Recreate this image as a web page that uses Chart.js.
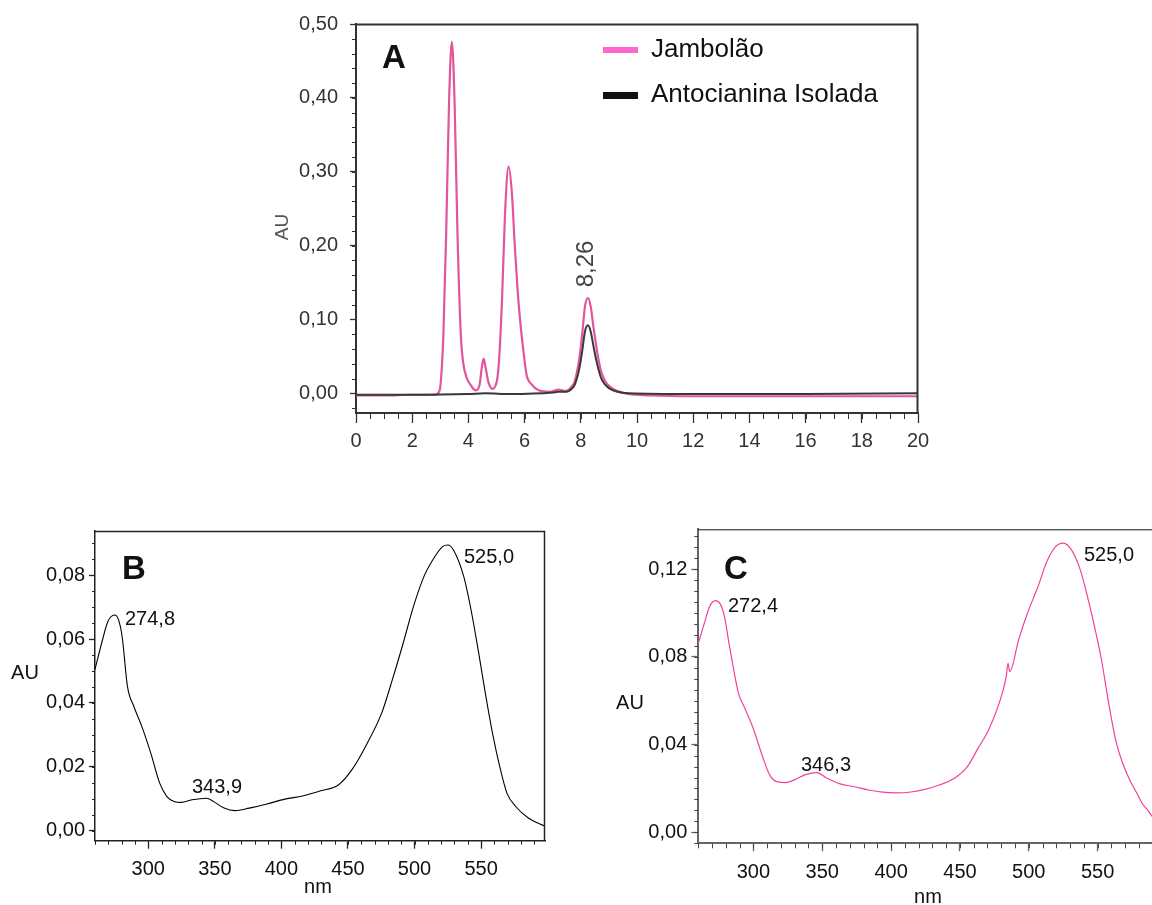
<!DOCTYPE html>
<html lang="pt">
<head>
<meta charset="utf-8">
<title>Cromatograma e espectros</title>
<script src="https://cdn.jsdelivr.net/npm/chart.js@4.4.1/dist/chart.umd.min.js"></script>
<style>
  html, body { margin: 0; padding: 0; background: #fff; overflow: hidden; }
  body { position: relative; width: 1152px; height: 905px; }
  canvas { position: absolute; }
  #chartA { left: 250px; top: 0; }
  #chartB { left: 0; top: 500px; }
  #chartC { left: 600px; top: 500px; }
</style>
</head>
<body>
<canvas id="chartA" width="720" height="470"></canvas>
<canvas id="chartB" width="580" height="405"></canvas>
<canvas id="chartC" width="600" height="405"></canvas>

<script>
'use strict';

/* ---------- A: cromatograma (min x AU) ---------- */
const jamT  = [0, 1, 2, 2.8, 2.97, 3.03, 3.11, 3.21, 3.31, 3.41, 3.51, 3.61, 3.73, 3.82, 3.94, 4.1, 4.26, 4.4, 4.47, 4.54,
               4.62, 4.72, 4.86, 4.96, 5.03, 5.1, 5.2, 5.3, 5.43, 5.55, 5.65, 5.75, 5.85, 5.95, 6.07, 6.25, 6.5, 6.9, 7.2, 7.45,
               7.65, 7.79, 7.95, 8.05, 8.15, 8.25, 8.35, 8.45, 8.55, 8.62, 8.72, 8.86, 9.0, 9.3, 9.7, 10.5, 12, 14, 16, 18, 20];
const jamAU = [-0.003, -0.003, -0.002, -0.002, 0.003, 0.021, 0.079, 0.218, 0.392, 0.476, 0.392, 0.218, 0.079, 0.04, 0.021, 0.01, 0.004, 0.012, 0.033, 0.047,
               0.033, 0.014, 0.006, 0.01, 0.02, 0.05, 0.13, 0.24, 0.307, 0.27, 0.2, 0.14, 0.095, 0.06, 0.025, 0.012, 0.004, 0.002, 0.005, 0.003,
               0.008, 0.017, 0.048, 0.08, 0.118, 0.129, 0.118, 0.09, 0.064, 0.048, 0.03, 0.017, 0.01, 0.003, -0.001, -0.003, -0.004, -0.004, -0.004, -0.004, -0.004];

const antT  = [0, 2, 4, 4.6, 5.5, 7, 7.2, 7.5, 7.65, 7.79, 7.95, 8.05, 8.15, 8.25, 8.35, 8.45, 8.55, 8.62, 8.72, 8.86, 9.0, 9.3, 9.7, 12, 16, 20];
const antAU = [-0.002, -0.002, -0.001, 0.0, -0.001, 0.001, 0.002, 0.002, 0.005, 0.012, 0.034, 0.057, 0.084, 0.092, 0.084, 0.064, 0.045, 0.034, 0.021, 0.012,
               0.007, 0.002, 0.0, -0.001, -0.001, 0.0];

const aTimeTicks = [0, 2, 4, 6, 8, 10, 12, 14, 16, 18, 20];
const aAUTicks   = [0, 0.1, 0.2, 0.3, 0.4, 0.5];

/* ---------- B: espectro antocianina isolada ---------- */
const bNm = [260, 265.6, 269.6, 274.8, 277.7, 280.4, 284.4, 289.2, 295.2, 301.9, 308.6, 314, 319.4, 324.7, 332.8, 343.9, 348.9, 357, 365, 375.8,
             389.2, 402.7, 416, 429.6, 443, 453.8, 464.5, 475.3, 483.3, 491.4, 499.5, 507.5, 512.9, 521, 525, 529, 537, 542.5, 547.8, 553.2,
             558.6, 564, 569.4, 576, 585.5, 598];
const bAU = [0.0505, 0.0597, 0.0654, 0.0675, 0.066, 0.0607, 0.0451, 0.0389, 0.0326, 0.0243, 0.0149, 0.0107, 0.0092, 0.0089, 0.0097, 0.0102, 0.0092, 0.0071, 0.0063, 0.0071,
             0.0084, 0.0099, 0.0109, 0.0125, 0.0144, 0.0196, 0.0274, 0.0368, 0.0472, 0.0586, 0.0706, 0.08, 0.0842, 0.0889, 0.0894, 0.088, 0.0795, 0.069, 0.0566, 0.043,
             0.0305, 0.0201, 0.0118, 0.0076, 0.004, 0.0014];
const bNmTicks = [300, 350, 400, 450, 500, 550];
const bAUTicks = [0, 0.02, 0.04, 0.06, 0.08];

/* ---------- C: espectro jambolão ---------- */
const cNm = [260, 264.4, 268.2, 272.4, 275.9, 279, 282.3, 286.2, 289.2, 293.8, 300.3, 306.7, 311.8, 317, 323.3, 329.7, 337.4, 346.3, 352.8, 363,
             373.3, 383.6, 393.8, 404.1, 414.4, 424.6, 434.9, 445.1, 455.4, 463.1, 470.8, 478.5, 483.6, 484.9, 486.2, 492.6, 499, 506.7, 513.1, 519.5,
             525, 531, 537.4, 542.6, 547.7, 552.8, 558, 563.1, 568.2, 573.3, 578.5, 582.3, 586.2, 590.8, 596];
const cAU = [0.0862, 0.0954, 0.103, 0.1057, 0.1042, 0.0984, 0.0862, 0.0725, 0.0634, 0.0566, 0.0467, 0.0345, 0.0262, 0.0231, 0.0227, 0.0239, 0.0262, 0.0272, 0.0249, 0.0221,
             0.0208, 0.0193, 0.0183, 0.018, 0.0184, 0.0196, 0.0216, 0.0243, 0.03, 0.0383, 0.0467, 0.0589, 0.071, 0.0771, 0.0733, 0.0878, 0.0999, 0.1121, 0.1235, 0.1303,
             0.1319, 0.1288, 0.1197, 0.1075, 0.0938, 0.0786, 0.0589, 0.0421, 0.0315, 0.0239, 0.0178, 0.0132, 0.0102, 0.0064, 0.005];
const cNmTicks = [300, 350, 400, 450, 500, 550];
const cAUTicks = [0, 0.04, 0.08, 0.12];

const FONT = '"Liberation Sans", Arial, Helvetica, sans-serif';
Chart.defaults.font.family = FONT;

const comma = v => Number(v).toFixed(2).replace('.', ',');
const pts = (xs, ys) => xs.map((x, i) => ({ x, y: ys[i] }));

// frame, minor ticks and free text drawn on top of the chart
const decorPlugin = {
  id: 'decor',
  afterDraw(chart, args, opts) {
    const { ctx, chartArea: a } = chart;
    ctx.save();

    if (opts.frame) {
      ctx.strokeStyle = opts.frame.color;
      ctx.lineWidth = opts.frame.width;
      ctx.beginPath();
      ctx.moveTo(a.left, a.top + 0.5);
      ctx.lineTo(a.right - 0.5, a.top + 0.5);
      ctx.lineTo(a.right - 0.5, a.bottom);
      ctx.stroke();
    }

    ['x', 'y'].forEach(id => {
      const m = opts.minor && opts.minor[id];
      if (!m) return;
      const s = chart.scales[id];
      ctx.strokeStyle = m.color;
      ctx.lineWidth = m.width || 1;
      for (let k = Math.ceil(s.min / m.step - 1e-6); k * m.step <= s.max + 1e-9; k++) {
        const p = Math.round(s.getPixelForValue(k * m.step)) + 0.5;
        ctx.beginPath();
        if (id === 'x') { ctx.moveTo(p, a.bottom); ctx.lineTo(p, a.bottom + m.len); }
        else            { ctx.moveTo(a.left, p);   ctx.lineTo(a.left - m.len, p); }
        ctx.stroke();
      }
    });

    (opts.swatches || []).forEach(sw => {
      ctx.fillStyle = sw.color;
      ctx.fillRect(sw.x, sw.y, sw.w, sw.h);
    });

    (opts.texts || []).forEach(t => {
      ctx.save();
      ctx.fillStyle = t.color || '#111';
      ctx.font = (t.weight || 'normal') + ' ' + t.size + 'px ' + FONT;
      ctx.textAlign = t.align || 'left';
      ctx.textBaseline = 'middle';
      ctx.translate(t.x, t.y);
      if (t.rotate) ctx.rotate(t.rotate * Math.PI / 180);
      ctx.fillText(t.text, 0, 0);
      ctx.restore();
    });

    ctx.restore();
  }
};

function axis(o) {
  return {
    type: 'linear',
    min: o.min,
    max: o.max,
    afterBuildTicks: s => { s.ticks = o.ticks.map(v => ({ value: v })); },
    afterFit: s => { if (o.width) s.width = o.width; if (o.height) s.height = o.height; },
    border: { color: o.color, width: o.lineWidth },
    grid: { drawOnChartArea: false, tickLength: o.tickLength, tickColor: o.color, tickWidth: 1.3 },
    ticks: {
      color: o.labelColor, font: { size: o.size }, padding: o.padding,
      autoSkip: false, maxRotation: 0, callback: o.format
    }
  };
}

function makeChart(id, datasets, scales, decor, padding) {
  return new Chart(document.getElementById(id), {
    type: 'line',
    data: { datasets },
    options: {
      responsive: false,
      animation: false,
      devicePixelRatio: 1,
      events: [],
      layout: { padding },
      elements: { point: { radius: 0 }, line: { cubicInterpolationMode: 'monotone' } },
      plugins: { legend: { display: false }, tooltip: { enabled: false }, decor },
      scales
    },
    plugins: [decorPlugin]
  });
}

/* ---------- A ---------- */
makeChart('chartA',
  [
    { data: pts(antT, antAU), borderColor: '#383838', borderWidth: 2 },
    { data: pts(jamT, jamAU), borderColor: '#e2559b', borderWidth: 2.2 }
  ],
  {
    x: axis({ min: 0, max: 20, ticks: aTimeTicks, height: 57, color: '#333', lineWidth: 2,
              tickLength: 10, labelColor: '#333', size: 20, padding: 6, format: v => String(v) }),
    y: axis({ min: -0.0267, max: 0.5, ticks: aAUTicks, width: 106, color: '#333', lineWidth: 2,
              tickLength: 6, labelColor: '#333', size: 20, padding: 12, format: comma })
  },
  {
    frame: { color: '#333', width: 2 },
    minor: { x: { step: 0.5, len: 6, color: '#333' }, y: { step: 0.02, len: 4, color: '#333' } },
    swatches: [
      { x: 353, y: 47, w: 35, h: 6, color: '#ff66cc' },
      { x: 353, y: 92, w: 35, h: 7, color: '#111' }
    ],
    texts: [
      { text: 'A', x: 144, y: 59, size: 33, weight: 'bold', align: 'center' },
      { text: 'Jambolão', x: 401, y: 50, size: 26 },
      { text: 'Antocianina Isolada', x: 401, y: 95, size: 26 },
      { text: '8,26', x: 336, y: 264, size: 24, align: 'center', rotate: -90, color: '#444' },
      { text: 'AU', x: 33, y: 227, size: 19, align: 'center', rotate: -90, color: '#555' }
    ]
  },
  { left: 0, top: 18, right: 52, bottom: 0 }
);

/* ---------- B ---------- */
makeChart('chartB',
  [ { data: pts(bNm, bAU), borderColor: '#000', borderWidth: 1.1 } ],
  {
    x: axis({ min: 260, max: 598, ticks: bNmTicks, height: 64.3, color: '#222', lineWidth: 1.5,
              tickLength: 8, labelColor: '#111', size: 20, padding: 9, format: v => String(v) }),
    y: axis({ min: -0.0031, max: 0.0938, ticks: bAUTicks, width: 95, color: '#222', lineWidth: 1.5,
              tickLength: 6, labelColor: '#111', size: 20, padding: 4, format: comma })
  },
  {
    frame: { color: '#222', width: 1.5 },
    minor: { x: { step: 10, len: 4, color: '#222' }, y: { step: 0.005, len: 3, color: '#222' } },
    texts: [
      { text: 'B', x: 134, y: 70, size: 33, weight: 'bold', align: 'center' },
      { text: '274,8', x: 125, y: 119, size: 20 },
      { text: '343,9', x: 192, y: 287, size: 20 },
      { text: '525,0', x: 464, y: 57, size: 20 },
      { text: 'AU', x: 25, y: 173, size: 20, align: 'center' },
      { text: 'nm', x: 318, y: 387, size: 20, align: 'center' }
    ]
  },
  { left: 0, top: 31, right: 35, bottom: 0 }
);

/* ---------- C ---------- */
makeChart('chartC',
  [ { data: pts(cNm, cAU), borderColor: '#f5409a', borderWidth: 1.2 } ],
  {
    x: axis({ min: 260, max: 596, ticks: cNmTicks, height: 61.7, color: '#666', lineWidth: 2,
              tickLength: 8, labelColor: '#111', size: 20, padding: 9, format: v => String(v) }),
    y: axis({ min: -0.005, max: 0.1382, ticks: cAUTicks, width: 98.3, color: '#666', lineWidth: 2,
              tickLength: 7, labelColor: '#111', size: 20, padding: 4, format: comma })
  },
  {
    frame: { color: '#111', width: 1 },
    minor: { x: { step: 10, len: 5, color: '#444' }, y: { step: 0.005, len: 4, color: '#444' } },
    texts: [
      { text: 'C', x: 136, y: 70, size: 33, weight: 'bold', align: 'center' },
      { text: '272,4', x: 128, y: 106, size: 20 },
      { text: '346,3', x: 201, y: 265, size: 20 },
      { text: '525,0', x: 484, y: 55, size: 20 },
      { text: 'AU', x: 30, y: 203, size: 20, align: 'center' },
      { text: 'nm', x: 328, y: 397, size: 20, align: 'center' }
    ]
  },
  { left: 0, top: 29.3, right: 39, bottom: 0 }
);
</script>
</body>
</html>
